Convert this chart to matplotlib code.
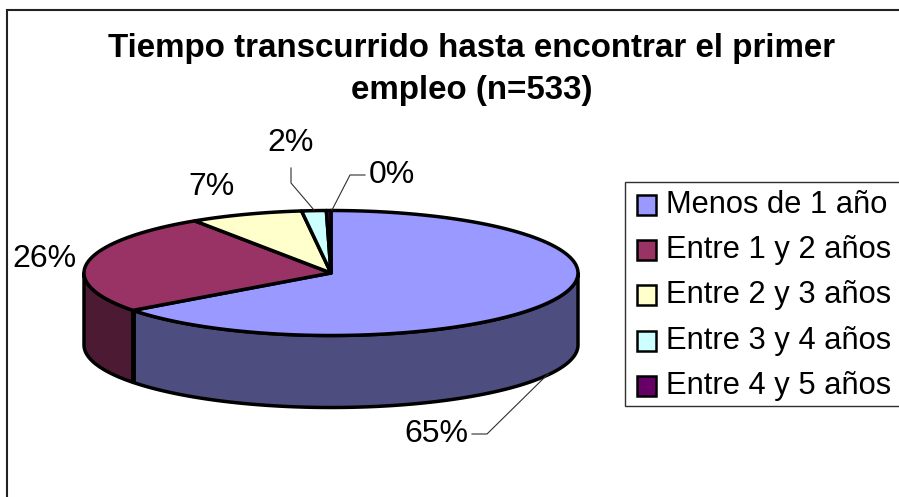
import numpy as np
import matplotlib
matplotlib.use("Agg")
import matplotlib.pyplot as plt
from matplotlib.patches import Polygon, Rectangle

plt.rcParams['font.family'] = ['Liberation Sans', 'DejaVu Sans']

# data, slices go clockwise from 12 o'clock
categories = ["Menos de 1 año", "Entre 1 y 2 años", "Entre 2 y 3 años",
              "Entre 3 y 4 años", "Entre 4 y 5 años"]
values = [64.8, 25.9, 7.4, 1.6, 0.3]
colors = ["#9999FF", "#993366", "#FFFFCC", "#CCFFFF", "#660066"]
side_colors = ["#4D4D80", "#4D1A33", "#80805F", "#608080", "#330033"]
title_lines = ["Tiempo transcurrido hasta encontrar el primer", "empleo (n=533)"]

# label centres and leader lines in pixels
label_pos = [(436, 434), (44, 259), (212, 187), (291, 143), (392, 175)]
leaders = [[(472, 434), (487, 434), (548, 374)], None, None,
           [(291, 168), (291, 183), (314, 210)],
           [(365, 175), (350, 175), (332, 210)]]

cx, cy, rx, ry, depth = 331, 273, 247, 62.5, 72

fig = plt.figure(figsize=(8.99, 4.97), dpi=100)
ax = fig.add_axes([0, 0, 1, 1])
ax.set_xlim(0, 899)
ax.set_ylim(497, 0)
ax.axis("off")

# chart frame, right and bottom sides fall outside the picture
ax.add_patch(Rectangle((6.5, 9.5), 950, 550, fc="white", ec="#222222", lw=1.5))


def rim(a, b, n=200):
    t = np.radians(np.linspace(a, b, n))
    return cx + rx * np.sin(t), cy - ry * np.cos(t)


total = sum(values)
angles = np.concatenate([[0], np.cumsum(values) / total * 360])

# outer wall, only the front half shows
for i in range(len(values)):
    a, b = max(angles[i], 90), min(angles[i + 1], 270)
    if a >= b:
        continue
    x, y = rim(a, b)
    pts = np.vstack([np.c_[x, y], np.c_[x, y + depth][::-1]])
    ax.add_patch(Polygon(pts, closed=True, fc=side_colors[i], ec="black", lw=2.5, joinstyle="round"))

# top face
for i in range(len(values)):
    x, y = rim(angles[i], angles[i + 1])
    pts = np.vstack([[cx, cy], np.c_[x, y]])
    ax.add_patch(Polygon(pts, closed=True, fc=colors[i], ec="black", lw=2.5, joinstyle="round"))

# the wall edge where the first two slices meet is heavier
x, y = rim(angles[1], angles[1], 1)
ax.plot([x[0], x[0]], [y[0], y[0] + depth], color="black", lw=3.5, solid_capstyle="butt")

for v, pos in zip(values, label_pos):
    ax.text(pos[0], pos[1], f"{round(v)}%", fontsize=23, ha="center", va="center", color="black")

for line in leaders:
    if line is not None:
        ax.plot([p[0] for p in line], [p[1] for p in line], color="#303030", lw=0.8)

for line, y in zip(title_lines, [48, 90]):
    ax.text(472, y, line, fontsize=23.9, fontweight="bold", ha="center", va="center", color="black")

# legend, its right side is cut off too
ax.add_patch(Rectangle((625, 182), 300, 224, fc="white", ec="#303030", lw=1))
for i, name in enumerate(categories):
    row = 205 + i * 45.2
    ax.add_patch(Rectangle((637, row - 10), 19, 20, fc=colors[i], ec="black", lw=1.8))
    ax.text(666, row, name, fontsize=22.2, ha="left", va="center", color="black")

fig.savefig("out.png", dpi=100)
